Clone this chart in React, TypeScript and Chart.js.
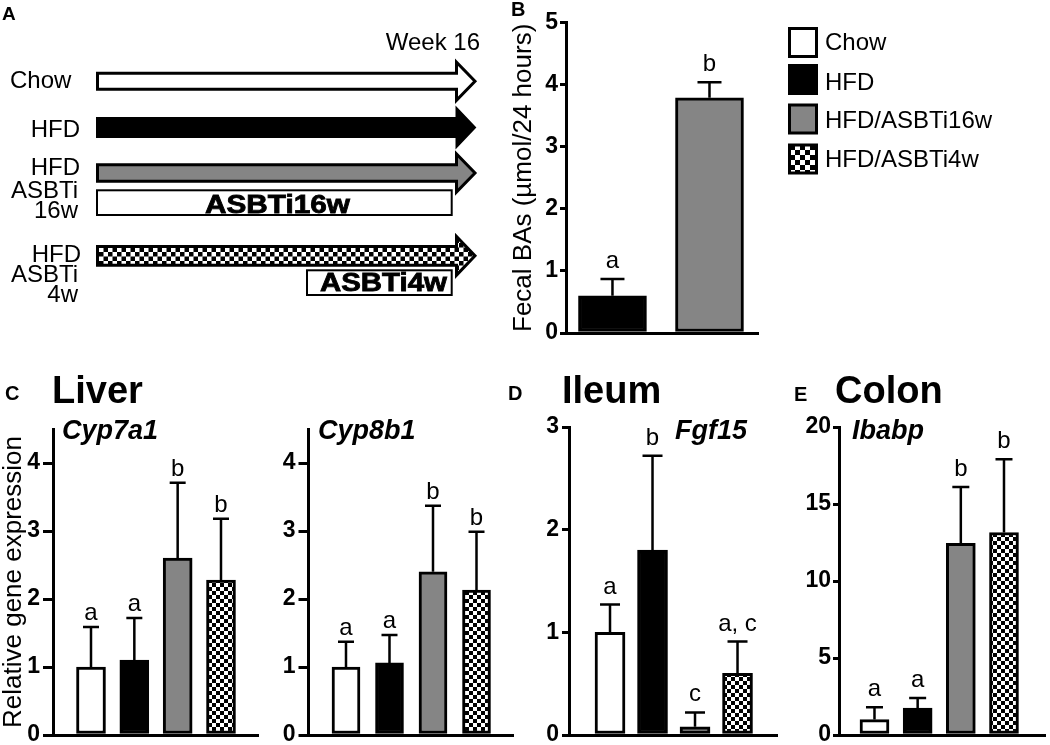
import React, { useEffect, useRef } from 'react';
import { Chart, registerables } from 'chart.js';
Chart.register(...registerables);

const FONT = '"Liberation Sans", Arial, Helvetica, sans-serif';

// ---------- data ----------
const groups = ['Chow', 'HFD', 'HFD/ASBTi16w', 'HFD/ASBTi4w'];

const fecalGroupIdx = [1, 2];
const fecalMean = [0.6, 3.79];
const fecalErr = [0.27, 0.25];
const fecalLetters = ['a', 'b'];
const fecalTicks = [0, 1, 2, 3, 4, 5];

const liverGroupIdx = [0, 1, 2, 3];
const cyp7a1Mean = [1.0, 1.1, 2.6, 2.28];
const cyp7a1Err = [0.59, 0.62, 1.11, 0.9];
const cyp7a1Letters = ['a', 'a', 'b', 'b'];
const cyp8b1Mean = [1.0, 1.06, 2.4, 2.13];
const cyp8b1Err = [0.37, 0.41, 0.97, 0.86];
const cyp8b1Letters = ['a', 'a', 'b', 'b'];
const liverTicks = [0, 1, 2, 3, 4];

const fgf15Mean = [1.0, 1.8, 0.08, 0.6];
const fgf15Err = [0.27, 0.92, 0.14, 0.31];
const fgf15Letters = ['a', 'b', 'c', 'a, c'];
const fgf15Ticks = [0, 1, 2, 3];

const ibabpMean = [1.0, 1.75, 12.45, 13.15];
const ibabpErr = [0.8, 0.65, 3.65, 4.75];
const ibabpLetters = ['a', 'a', 'b', 'b'];
const ibabpTicks = [0, 5, 10, 15, 20];

// ---------- styles ----------
const GRAY = '#858585';

function checker(ctx: CanvasRenderingContext2D, size: number) {
  const c = document.createElement('canvas');
  c.width = size * 2;
  c.height = size * 2;
  const g = c.getContext('2d')!;
  g.fillStyle = '#fff';
  g.fillRect(0, 0, size * 2, size * 2);
  g.fillStyle = '#000';
  g.fillRect(0, 0, size, size);
  g.fillRect(size, size, size, size);
  return ctx.createPattern(c, 'repeat');
}

type PanelProps = {
  groupIdx: number[];
  means: number[];
  errs: number[];
  letters: string[];
  ticks: number[];
  yMax: number;
  axisX: number;
  right: number;
  top: number;
  bottom: number;
  yWidth: number;
  xMin: number;
  xMax: number;
  barW: number;
  capW: number;
  letterGap: number;
  tickLen: number;
  tickPad: number;
  yTitle?: string;
  titlePad?: number;
};

function BarPanel(p: PanelProps) {
  const ref = useRef<HTMLCanvasElement>(null);
  const canvasLeft = Math.round(p.axisX - p.yWidth);
  const canvasTop = Math.round(p.top - 34);
  const w = Math.round(p.right + 4 - canvasLeft);
  const h = Math.round(p.bottom + 22 - canvasTop);
  useEffect(() => {
    const cv = ref.current!;
    const ctx = cv.getContext('2d')!;
    const fills: any[] = ['#ffffff', '#000000', GRAY, checker(ctx, 4)];
    const yW = p.axisX - canvasLeft;
    const errPlugin = {
      id: 'errLetters',
      afterDatasetsDraw(chart: any) {
        const c = chart.ctx;
        const xs = chart.scales.x;
        const ys = chart.scales.y;
        c.save();
        c.strokeStyle = '#000';
        c.lineWidth = 2.5;
        c.fillStyle = '#000';
        c.font = `24px ${FONT}`;
        c.textAlign = 'center';
        c.textBaseline = 'alphabetic';
        p.means.forEach((m, i) => {
          const px = xs.getPixelForValue(i);
          const y0 = ys.getPixelForValue(m);
          const y1 = ys.getPixelForValue(m + p.errs[i]);
          c.beginPath();
          c.moveTo(px, y0);
          c.lineTo(px, y1);
          c.moveTo(px - p.capW / 2, y1);
          c.lineTo(px + p.capW / 2, y1);
          c.stroke();
          c.fillText(p.letters[i], px, y1 - p.letterGap);
        });
        c.restore();
      },
    };
    const chart = new Chart(cv, {
      type: 'bar',
      data: {
        datasets: [
          {
            data: p.means.map((m, i) => ({ x: i, y: m })),
            backgroundColor: p.groupIdx.map((g) => fills[g]),
            borderColor: '#000',
            borderWidth: 3,
            borderSkipped: false,
            barThickness: p.barW,
          } as any,
        ],
      },
      options: {
        responsive: false,
        animation: false,
        devicePixelRatio: 1,
        events: [],
        layout: {
          padding: {
            top: p.top - canvasTop,
            bottom: canvasTop + h - p.bottom,
            left: 0,
            right: canvasLeft + w - p.right,
          },
        },
        plugins: { legend: { display: false }, tooltip: { enabled: false }, title: { display: false } },
        scales: {
          x: {
            type: 'linear',
            min: p.xMin,
            max: p.xMax,
            offset: false,
            grid: { display: false, drawTicks: false, offset: false },
            ticks: { display: false },
            border: { display: true, width: 3, color: '#000' },
            afterFit: (s: any) => {
              s.height = 0;
            },
          },
          y: {
            type: 'linear',
            min: 0,
            max: p.yMax,
            afterBuildTicks: (s: any) => {
              s.ticks = p.ticks.map((v) => ({ value: v }));
            },
            afterFit: (s: any) => {
              s.width = yW;
            },
            grid: {
              display: true,
              drawOnChartArea: false,
              drawTicks: true,
              tickLength: p.tickLen,
              lineWidth: 3,
              color: '#000',
            },
            border: { display: true, width: 3, color: '#000' },
            ticks: {
              color: '#000',
              font: { family: FONT, size: 23, weight: 700 },
              padding: p.tickPad,
              callback: (v: any) => String(v),
            },
            title: p.yTitle
              ? {
                  display: true,
                  text: p.yTitle,
                  color: '#000',
                  font: { family: FONT, size: 26, lineHeight: 1 },
                  padding: { top: p.titlePad ?? 0, bottom: 0 },
                }
              : { display: false },
          },
        },
      } as any,
      plugins: [errPlugin],
    });
    return () => chart.destroy();
  }, []);
  return (
    <canvas
      ref={ref}
      width={w}
      height={h}
      style={{ position: 'absolute', left: canvasLeft, top: canvasTop, width: w, height: h }}
    />
  );
}

function arrowPath(x0: number, xh: number, xt: number, c: number, h: number, H: number) {
  return `M${x0},${c - h / 2} L${xh},${c - h / 2} L${xh},${c - H / 2} L${xt},${c} L${xh},${c + H / 2} L${xh},${c + h / 2} L${x0},${c + h / 2} Z`;
}

function Overlay() {
  const legendFills = ['#ffffff', '#000000', GRAY, 'url(#chk5)'];
  const legendTops = [27, 64, 103.5, 143.5];
  const legendBase = [50, 90, 128, 167];
  const txt = { fontFamily: FONT, fill: '#000' } as any;
  return (
    <svg
      width={1050}
      height={745}
      style={{ position: 'absolute', left: 0, top: 0, pointerEvents: 'none' }}
    >
      <defs>
        <pattern id="chk45" width={9} height={9} patternUnits="userSpaceOnUse">
          <rect x={0} y={0} width={9} height={9} fill="#fff" />
          <rect x={0} y={0} width={4.5} height={4.5} fill="#000" />
          <rect x={4.5} y={4.5} width={4.5} height={4.5} fill="#000" />
        </pattern>
        <pattern id="chk5" x={790} y={145} width={10} height={10} patternUnits="userSpaceOnUse">
          <rect x={0} y={0} width={10} height={10} fill="#fff" />
          <rect x={0} y={0} width={5} height={5} fill="#000" />
          <rect x={5} y={5} width={5} height={5} fill="#000" />
        </pattern>
      </defs>

      {/* Panel A */}
      <text x={2} y={20} fontSize={19} fontWeight="bold" {...txt}>A</text>
      <text x={480} y={50} fontSize={24} textAnchor="end" {...txt}>Week 16</text>

      <text x={10} y={88} fontSize={24} {...txt}>Chow</text>
      <path d={arrowPath(97.5, 456.5, 475, 81.2, 16, 38)} fill="#fff" stroke="#000" strokeWidth={3} />

      <text x={80} y={137} fontSize={24} textAnchor="end" {...txt}>HFD</text>
      <path d={arrowPath(97, 456.5, 475, 127.5, 19, 39)} fill="#000" stroke="#000" strokeWidth={2} />

      <text x={80} y={175} fontSize={24} textAnchor="end" {...txt}>HFD</text>
      <text x={78} y={198} fontSize={24} textAnchor="end" {...txt}>ASBTi</text>
      <text x={78} y={218} fontSize={24} textAnchor="end" {...txt}>16w</text>
      <path d={arrowPath(97.5, 456.5, 475, 173, 16.4, 38)} fill={GRAY} stroke="#000" strokeWidth={3} />
      <rect x={97} y={190.3} width={354.7} height={24.7} fill="#fff" stroke="#000" strokeWidth={2} />
      <text x={205} y={213} fontSize={25} fontWeight="900" stroke="#000" strokeWidth={0.8} textLength={145} lengthAdjust="spacingAndGlyphs" {...txt}>ASBTi16w</text>

      <text x={81} y={262} fontSize={24} textAnchor="end" {...txt}>HFD</text>
      <text x={78} y={282} fontSize={24} textAnchor="end" {...txt}>ASBTi</text>
      <text x={78} y={302} fontSize={24} textAnchor="end" {...txt}>4w</text>
      <path d={arrowPath(97.5, 456.5, 475, 255.8, 18.7, 38.7)} fill="url(#chk45)" stroke="#000" strokeWidth={3} />
      <rect x={307} y={270.3} width={144.7} height={24.7} fill="#fff" stroke="#000" strokeWidth={2} />
      <text x={320} y={291} fontSize={25} fontWeight="900" stroke="#000" strokeWidth={0.8} textLength={127} lengthAdjust="spacingAndGlyphs" {...txt}>ASBTi4w</text>

      {/* Panel B */}
      <text x={511} y={16} fontSize={20} fontWeight="bold" {...txt}>B</text>
      {groups.map((g, i) => (
        <g key={g}>
          <rect x={789.5} y={legendTops[i] + 1.5} width={27} height={28} fill={legendFills[i]} stroke="#000" strokeWidth={3} />
          <text x={825} y={legendBase[i]} fontSize={24} {...txt}>{g}</text>
        </g>
      ))}

      {/* Row 2 titles */}
      <text x={5} y={400} fontSize={20} fontWeight="bold" {...txt}>C</text>
      <text x={52} y={403} fontSize={38} fontWeight="bold" {...txt}>Liver</text>
      <text x={62} y={439} fontSize={27} fontWeight="bold" fontStyle="italic" {...txt}>Cyp7a1</text>
      <text x={318} y={439} fontSize={27} fontWeight="bold" fontStyle="italic" {...txt}>Cyp8b1</text>

      <text x={508} y={400} fontSize={20} fontWeight="bold" {...txt}>D</text>
      <text x={562} y={403} fontSize={38} fontWeight="bold" {...txt}>Ileum</text>
      <text x={675} y={439} fontSize={27} fontWeight="bold" fontStyle="italic" {...txt}>Fgf15</text>

      <text x={794} y={401} fontSize={20} fontWeight="bold" {...txt}>E</text>
      <text x={835} y={403} fontSize={38} fontWeight="bold" {...txt}>Colon</text>
      <text x={852} y={439} fontSize={27} fontWeight="bold" fontStyle="italic" {...txt}>Ibabp</text>
    </svg>
  );
}

export default function App() {
  return (
    <div
      style={{
        position: 'absolute',
        left: 0,
        top: 0,
        width: 1050,
        height: 745,
        overflow: 'hidden',
        background: '#fff',
      }}
    >
      <BarPanel
        groupIdx={fecalGroupIdx}
        means={fecalMean}
        errs={fecalErr}
        letters={fecalLetters}
        ticks={fecalTicks}
        yMax={5}
        axisX={566}
        right={758}
        top={22.7}
        bottom={333}
        yWidth={60}
        xMin={-0.479}
        xMax={1.5}
        barW={68}
        capW={24}
        letterGap={11}
        tickLen={6}
        tickPad={2}
        yTitle="Fecal BAs (µmol/24 hours)"
        titlePad={5}
      />
      <BarPanel
        groupIdx={liverGroupIdx}
        means={cyp7a1Mean}
        errs={cyp7a1Err}
        letters={cyp7a1Letters}
        ticks={liverTicks}
        yMax={4.5}
        axisX={53}
        right={258}
        top={429}
        bottom={735}
        yWidth={53}
        xMin={-0.877}
        xMax={3.854}
        barW={29}
        capW={16}
        letterGap={7}
        tickLen={10}
        tickPad={3}
        yTitle="Relative gene expression"
        titlePad={1}
      />
      <BarPanel
        groupIdx={liverGroupIdx}
        means={cyp8b1Mean}
        errs={cyp8b1Err}
        letters={cyp8b1Letters}
        ticks={liverTicks}
        yMax={4.5}
        axisX={308.5}
        right={513}
        top={429}
        bottom={735}
        yWidth={48}
        xMin={-0.862}
        xMax={3.839}
        barW={28}
        capW={16}
        letterGap={7}
        tickLen={10}
        tickPad={3}
      />
      <BarPanel
        groupIdx={liverGroupIdx}
        means={fgf15Mean}
        errs={fgf15Err}
        letters={fgf15Letters}
        ticks={fgf15Ticks}
        yMax={3}
        axisX={569}
        right={777}
        top={427}
        bottom={735}
        yWidth={50}
        xMin={-0.965}
        xMax={3.929}
        barW={30}
        capW={20}
        letterGap={11}
        tickLen={7}
        tickPad={3}
      />
      <BarPanel
        groupIdx={liverGroupIdx}
        means={ibabpMean}
        errs={ibabpErr}
        letters={ibabpLetters}
        ticks={ibabpTicks}
        yMax={20}
        axisX={839}
        right={1045}
        top={427}
        bottom={735}
        yWidth={50}
        xMin={-0.822}
        xMax={3.95}
        barW={29}
        capW={17}
        letterGap={11}
        tickLen={6}
        tickPad={2}
      />
      <Overlay />
    </div>
  );
}
